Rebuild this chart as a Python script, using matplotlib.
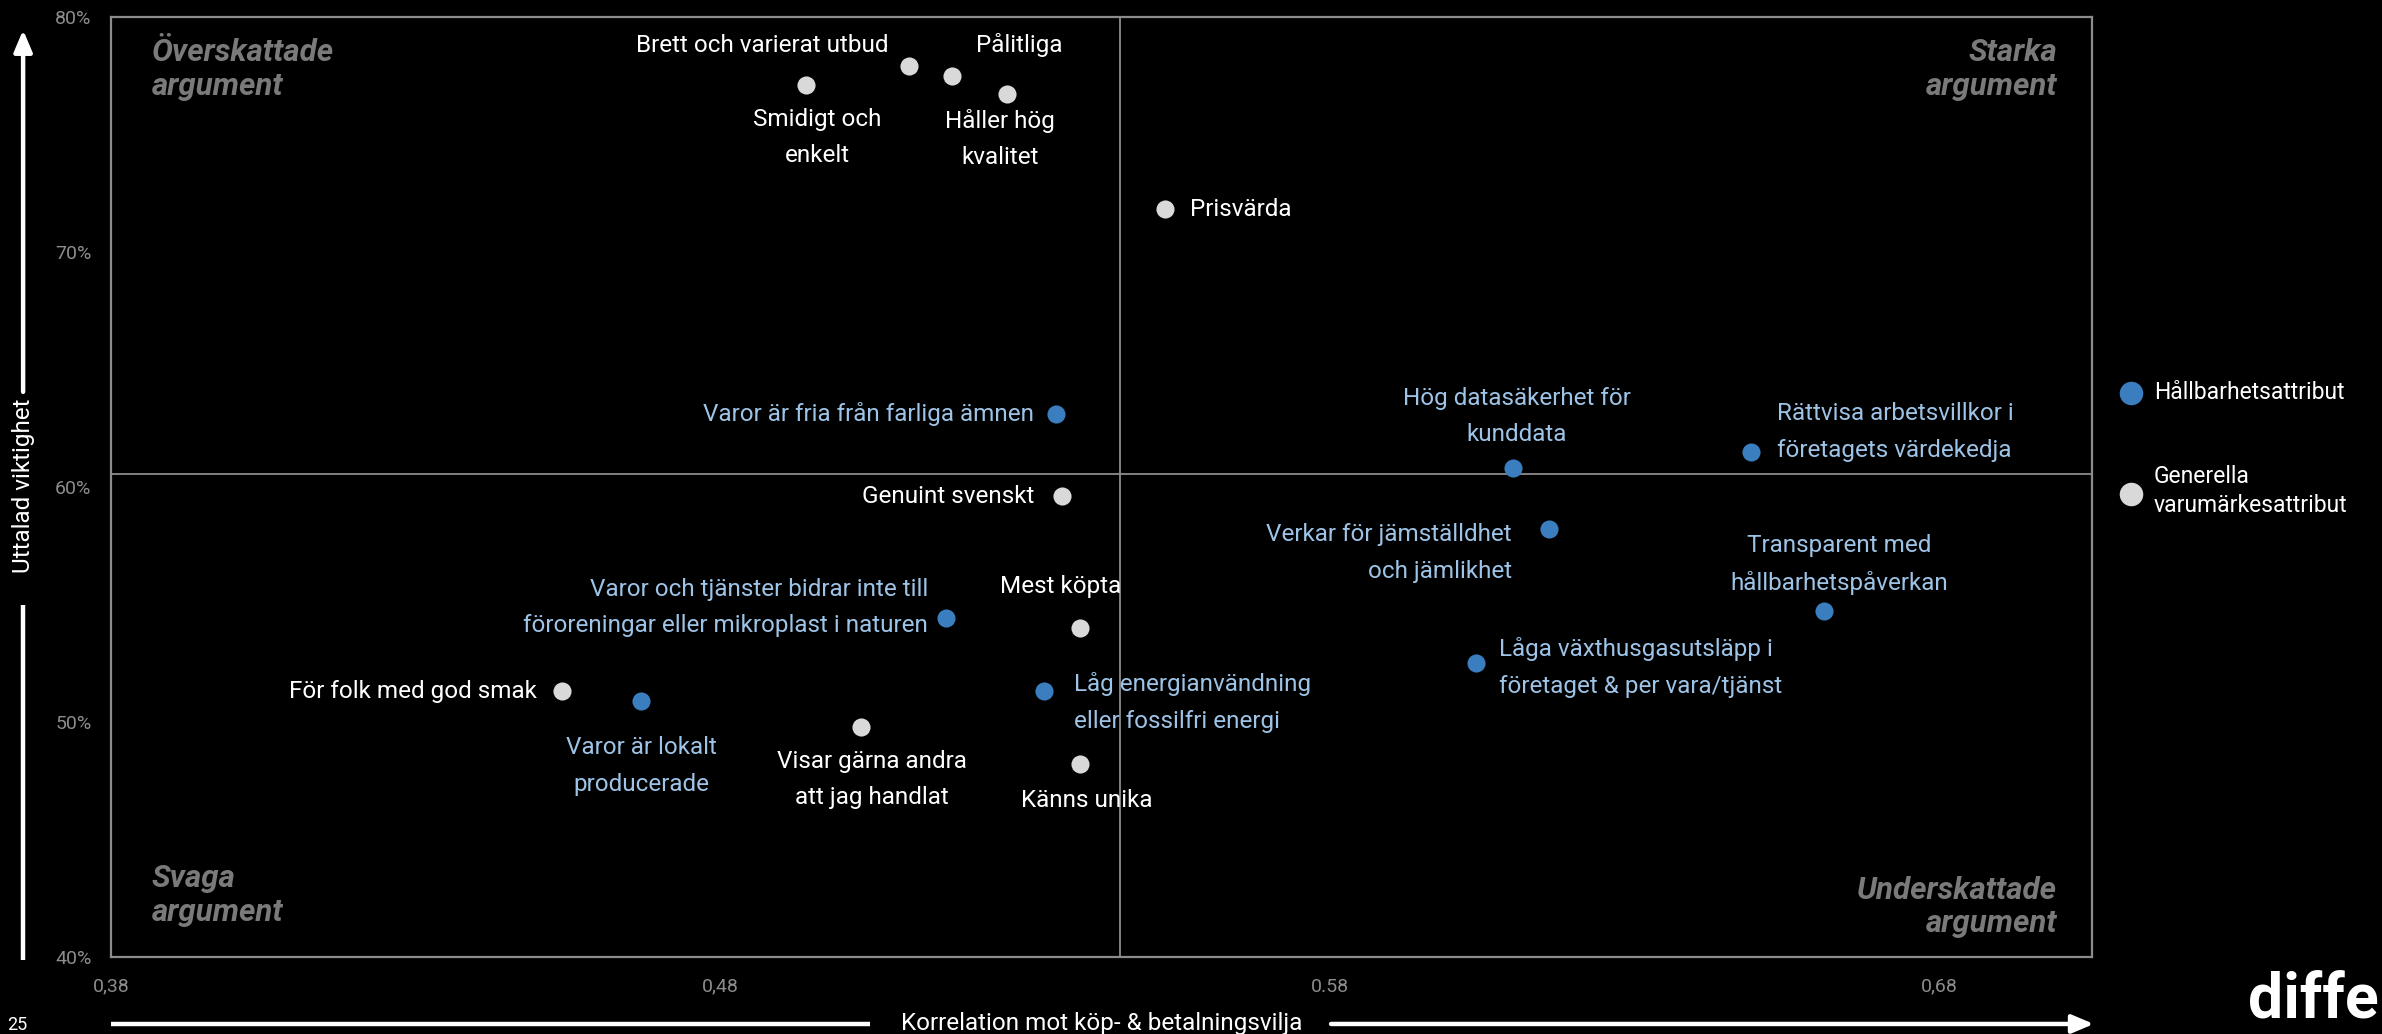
import matplotlib
matplotlib.use('Agg')
import matplotlib.pyplot as plt
from matplotlib import font_manager
from matplotlib.lines import Line2D
from matplotlib.patches import FancyArrowPatch


def have_font(name):
    try:
        font_manager.findfont(name, fallback_to_default=False)
        return True
    except ValueError:
        return False


NARROW = have_font('Liberation Sans Narrow')
FAMILY = ['Liberation Sans Narrow', 'DejaVu Sans'] if NARROW else ['Roboto', 'DejaVu Sans']
plt.rcParams['font.family'] = FAMILY

# generella varumärkesattribut
gen_labels = ['Brett och varierat utbud', 'Smidigt och\nenkelt', 'Pålitliga',
              'Håller hög\nkvalitet', 'Prisvärda', 'Genuint svenskt', 'Mest köpta',
              'För folk med god smak', 'Visar gärna andra\natt jag handlat', 'Känns unika']
gen_x = [0.511, 0.494, 0.518, 0.527, 0.553, 0.536, 0.539, 0.454, 0.503, 0.539]
gen_y = [77.9, 77.1, 77.5, 76.7, 71.8, 59.6, 54.0, 51.3, 49.8, 48.2]

# hållbarhetsattribut
hall_labels = ['Varor är fria från farliga ämnen',
               'Varor och tjänster bidrar inte till\nföroreningar eller mikroplast i naturen',
               'Varor är lokalt\nproducerade',
               'Låg energianvändning\neller fossilfri energi',
               'Hög datasäkerhet för\nkunddata',
               'Rättvisa arbetsvillkor i\nföretagets värdekedja',
               'Verkar för jämställdhet\noch jämlikhet',
               'Transparent med\nhållbarhetspåverkan',
               'Låga växthusgasutsläpp i\nföretaget & per vara/tjänst']
hall_x = [0.535, 0.517, 0.467, 0.533, 0.610, 0.649, 0.616, 0.661, 0.604]
hall_y = [63.1, 54.4, 50.9, 51.3, 60.8, 61.5, 58.2, 54.7, 52.5]

x_mid = 0.5455
y_mid = 60.55

x_ticks = [0.38, 0.48, 0.58, 0.68]
x_ticklabels = ['0,38', '0,48', '0.58', '0,68']
y_ticks = [40, 50, 60, 70, 80]
y_ticklabels = ['40%', '50%', '60%', '70%', '80%']

# label placement: (dx, dy) in points, ha
place = {
    'Brett och varierat utbud': (-15, 15, 'right'),
    'Smidigt och\nenkelt': (8, -38, 'center'),
    'Pålitliga': (48, 22, 'center'),
    'Håller hög\nkvalitet': (-5, -32, 'center'),
    'Prisvärda': (18, 0, 'left'),
    'Genuint svenskt': (-20, 0, 'right'),
    'Mest köpta': (-14, 30, 'center'),
    'För folk med god smak': (-18, 0, 'right'),
    'Visar gärna andra\natt jag handlat': (8, -38, 'center'),
    'Känns unika': (5, -26, 'center'),
    'Varor är fria från farliga ämnen': (-16, 0, 'right'),
    'Varor och tjänster bidrar inte till\nföroreningar eller mikroplast i naturen': (-13, 8, 'right'),
    'Varor är lokalt\nproducerade': (0, -47, 'center'),
    'Låg energianvändning\neller fossilfri energi': (22, -8, 'left'),
    'Hög datasäkerhet för\nkunddata': (3, 37, 'center'),
    'Rättvisa arbetsvillkor i\nföretagets värdekedja': (19, 14, 'left'),
    'Verkar för jämställdhet\noch jämlikhet': (-27, -17, 'right'),
    'Transparent med\nhållbarhetspåverkan': (11, 34, 'center'),
    'Låga växthusgasutsläpp i\nföretaget & per vara/tjänst': (16, -3, 'left'),
}

BLUE = '#3a7ebf'
BLUE_TXT = '#9dc3e6'
GREY_DOT = '#d9d9d9'
GRID = '#8c8c8c'
QUAD = '#7a7a7a'
FS = 21 if NARROW else 17.5
LEG_FS = 19.5 if NARROW else 16.5

fig = plt.figure(figsize=(23.82, 10.34), dpi=100, facecolor='black')
ax = fig.add_axes([0.0466, 0.0745, 0.8316, 0.9093], facecolor='black')

ax.set_xlim(0.38, 0.705)
ax.set_ylim(40, 80)
ax.axvline(x_mid, color=GRID, lw=1.3, zorder=1)
ax.axhline(y_mid, color=GRID, lw=1.3, zorder=1)

ax.scatter(hall_x, hall_y, s=170, color=BLUE, zorder=3, linewidths=0, label='Hållbarhetsattribut')
ax.scatter(gen_x, gen_y, s=170, color=GREY_DOT, zorder=3, linewidths=0, label='Generella\nvarumärkesattribut')

for labels, xs, ys, col in [(gen_labels, gen_x, gen_y, 'white'),
                            (hall_labels, hall_x, hall_y, BLUE_TXT)]:
    for lab, x, y in zip(labels, xs, ys):
        dx, dy, ha = place[lab]
        ax.annotate(lab, (x, y), xytext=(dx, dy), textcoords='offset points',
                    ha=ha, va='center', multialignment='center' if ha == 'center' else ha,
                    color=col, fontsize=FS, linespacing=1.75, zorder=4)

for sp in ax.spines.values():
    sp.set_color(GRID)
    sp.set_linewidth(1.6)

ax.set_xticks(x_ticks)
ax.set_xticklabels(x_ticklabels, family=['Roboto', 'DejaVu Sans'])
ax.set_yticks(y_ticks)
ax.set_yticklabels(y_ticklabels, family=['Roboto', 'DejaVu Sans'])
ax.tick_params(axis='both', length=0, colors='#8c8c8c', labelsize=14)
ax.tick_params(axis='x', pad=15)
ax.tick_params(axis='y', pad=14)

# quadrant names
qkw = dict(transform=ax.transAxes, color=QUAD, fontsize=24 if NARROW else 22.5,
           fontweight='bold', fontstyle='italic', linespacing=1.2)
ax.text(0.0207, 0.977, 'Överskattade\nargument', ha='left', va='top', **qkw)
ax.text(0.9824, 0.977, 'Starka\nargument', ha='right', va='top', multialignment='right', **qkw)
ax.text(0.0207, 0.032, 'Svaga\nargument', ha='left', va='bottom', **qkw)
ax.text(0.9824, 0.020, 'Underskattade\nargument', ha='right', va='bottom', multialignment='right', **qkw)

# axis arrows
def seg(x0, y0, x1, y1, head=False):
    if head:
        fig.add_artist(FancyArrowPatch((x0, y0), (x1, y1), transform=fig.transFigure,
                                       arrowstyle='-|>,head_length=1.3,head_width=0.55',
                                       mutation_scale=10, color='white', lw=3.2,
                                       shrinkA=0, shrinkB=0))
    else:
        fig.add_artist(Line2D([x0, x1], [y0, y1], transform=fig.transFigure,
                              color='white', lw=3.2, solid_capstyle='butt'))

seg(0.0097, 0.0716, 0.0097, 0.415)
seg(0.0097, 0.621, 0.0097, 0.971, head=True)
seg(0.0466, 0.0097, 0.3652, 0.0097)
seg(0.5588, 0.0097, 0.879, 0.0097, head=True)

fig.text(0.0097, 0.530, 'Uttalad viktighet', rotation=90, ha='center', va='center',
         color='white', fontsize=FS)
fig.text(0.4623, 0.0097, 'Korrelation mot köp- & betalningsvilja', ha='center', va='center',
         color='white', fontsize=FS)

leg = fig.legend(loc='center left', bbox_to_anchor=(0.8812, 0.566), frameon=False,
                 fontsize=LEG_FS, labelcolor='white', labelspacing=2.7, handlelength=1.0,
                 handletextpad=0.5, markerscale=1.3)
for t in leg.get_texts():
    t.set_linespacing(1.3)

fig.text(0.003, 0.0, '25', color='white', fontsize=13, ha='left', va='bottom')
fig.text(0.9985, 0.003, 'diffe', color='white', fontsize=45, fontweight='bold',
         ha='right', va='bottom')

fig.savefig('out.png', dpi=100, facecolor='black')
